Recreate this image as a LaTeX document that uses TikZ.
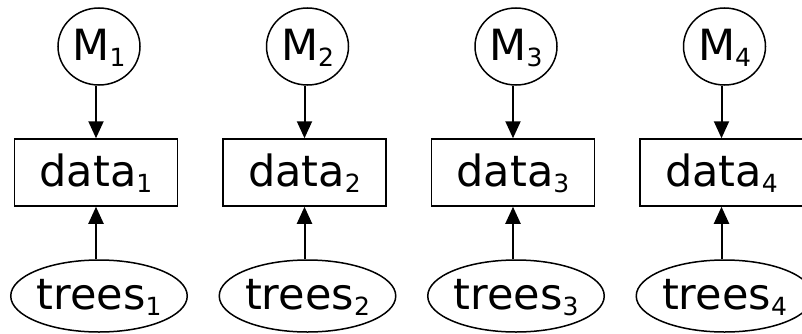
\documentclass[tikz,border=0pt]{standalone}
\usepackage{fontspec}
\setmainfont{DejaVu Sans}
\usetikzlibrary{shapes.geometric,arrows.meta}
\newcommand{\lbl}[2]{#1\raisebox{-6pt}{\fontsize{25}{25}\selectfont #2}}
\tikzset{
  model/.style={draw,line width=1.5pt,ellipse,minimum width=82pt,minimum height=77pt,inner sep=0pt,font=\fontsize{43}{43}\selectfont,text depth=4pt},
  databox/.style={draw,line width=1.5pt,rectangle,minimum width=163pt,minimum height=67pt,inner sep=0pt,font=\fontsize{43}{43}\selectfont,text depth=4pt},
  treenode/.style={draw,line width=1.5pt,ellipse,minimum width=170pt,minimum height=72pt,inner sep=0pt,font=\fontsize{43}{43}\selectfont,text depth=4pt},
  conn/.style={line width=2pt,-{Triangle[length=17pt,width=15pt]}}
}
\begin{document}
\begin{tikzpicture}[x=1pt,y=1pt]
\useasboundingbox (0,0) rectangle (802,333);
\foreach \i/\x in {1/96,2/304.5,3/513,4/721.5}{
  \node[model] (m\i) at (\x+3,333-46.5) {\lbl{M}{\i}};
  \node[databox] (d\i) at (\x,333-172.5) {\lbl{data}{\i}};
  \node[treenode] (t\i) at (\x+3,333-296) {\lbl{trees}{\i}};
  \draw[conn] (d\i.north |- m\i.south) -- (d\i.north);
  \draw[conn] (d\i.south |- t\i.north) -- (d\i.south);
}
\end{tikzpicture}
\end{document}
